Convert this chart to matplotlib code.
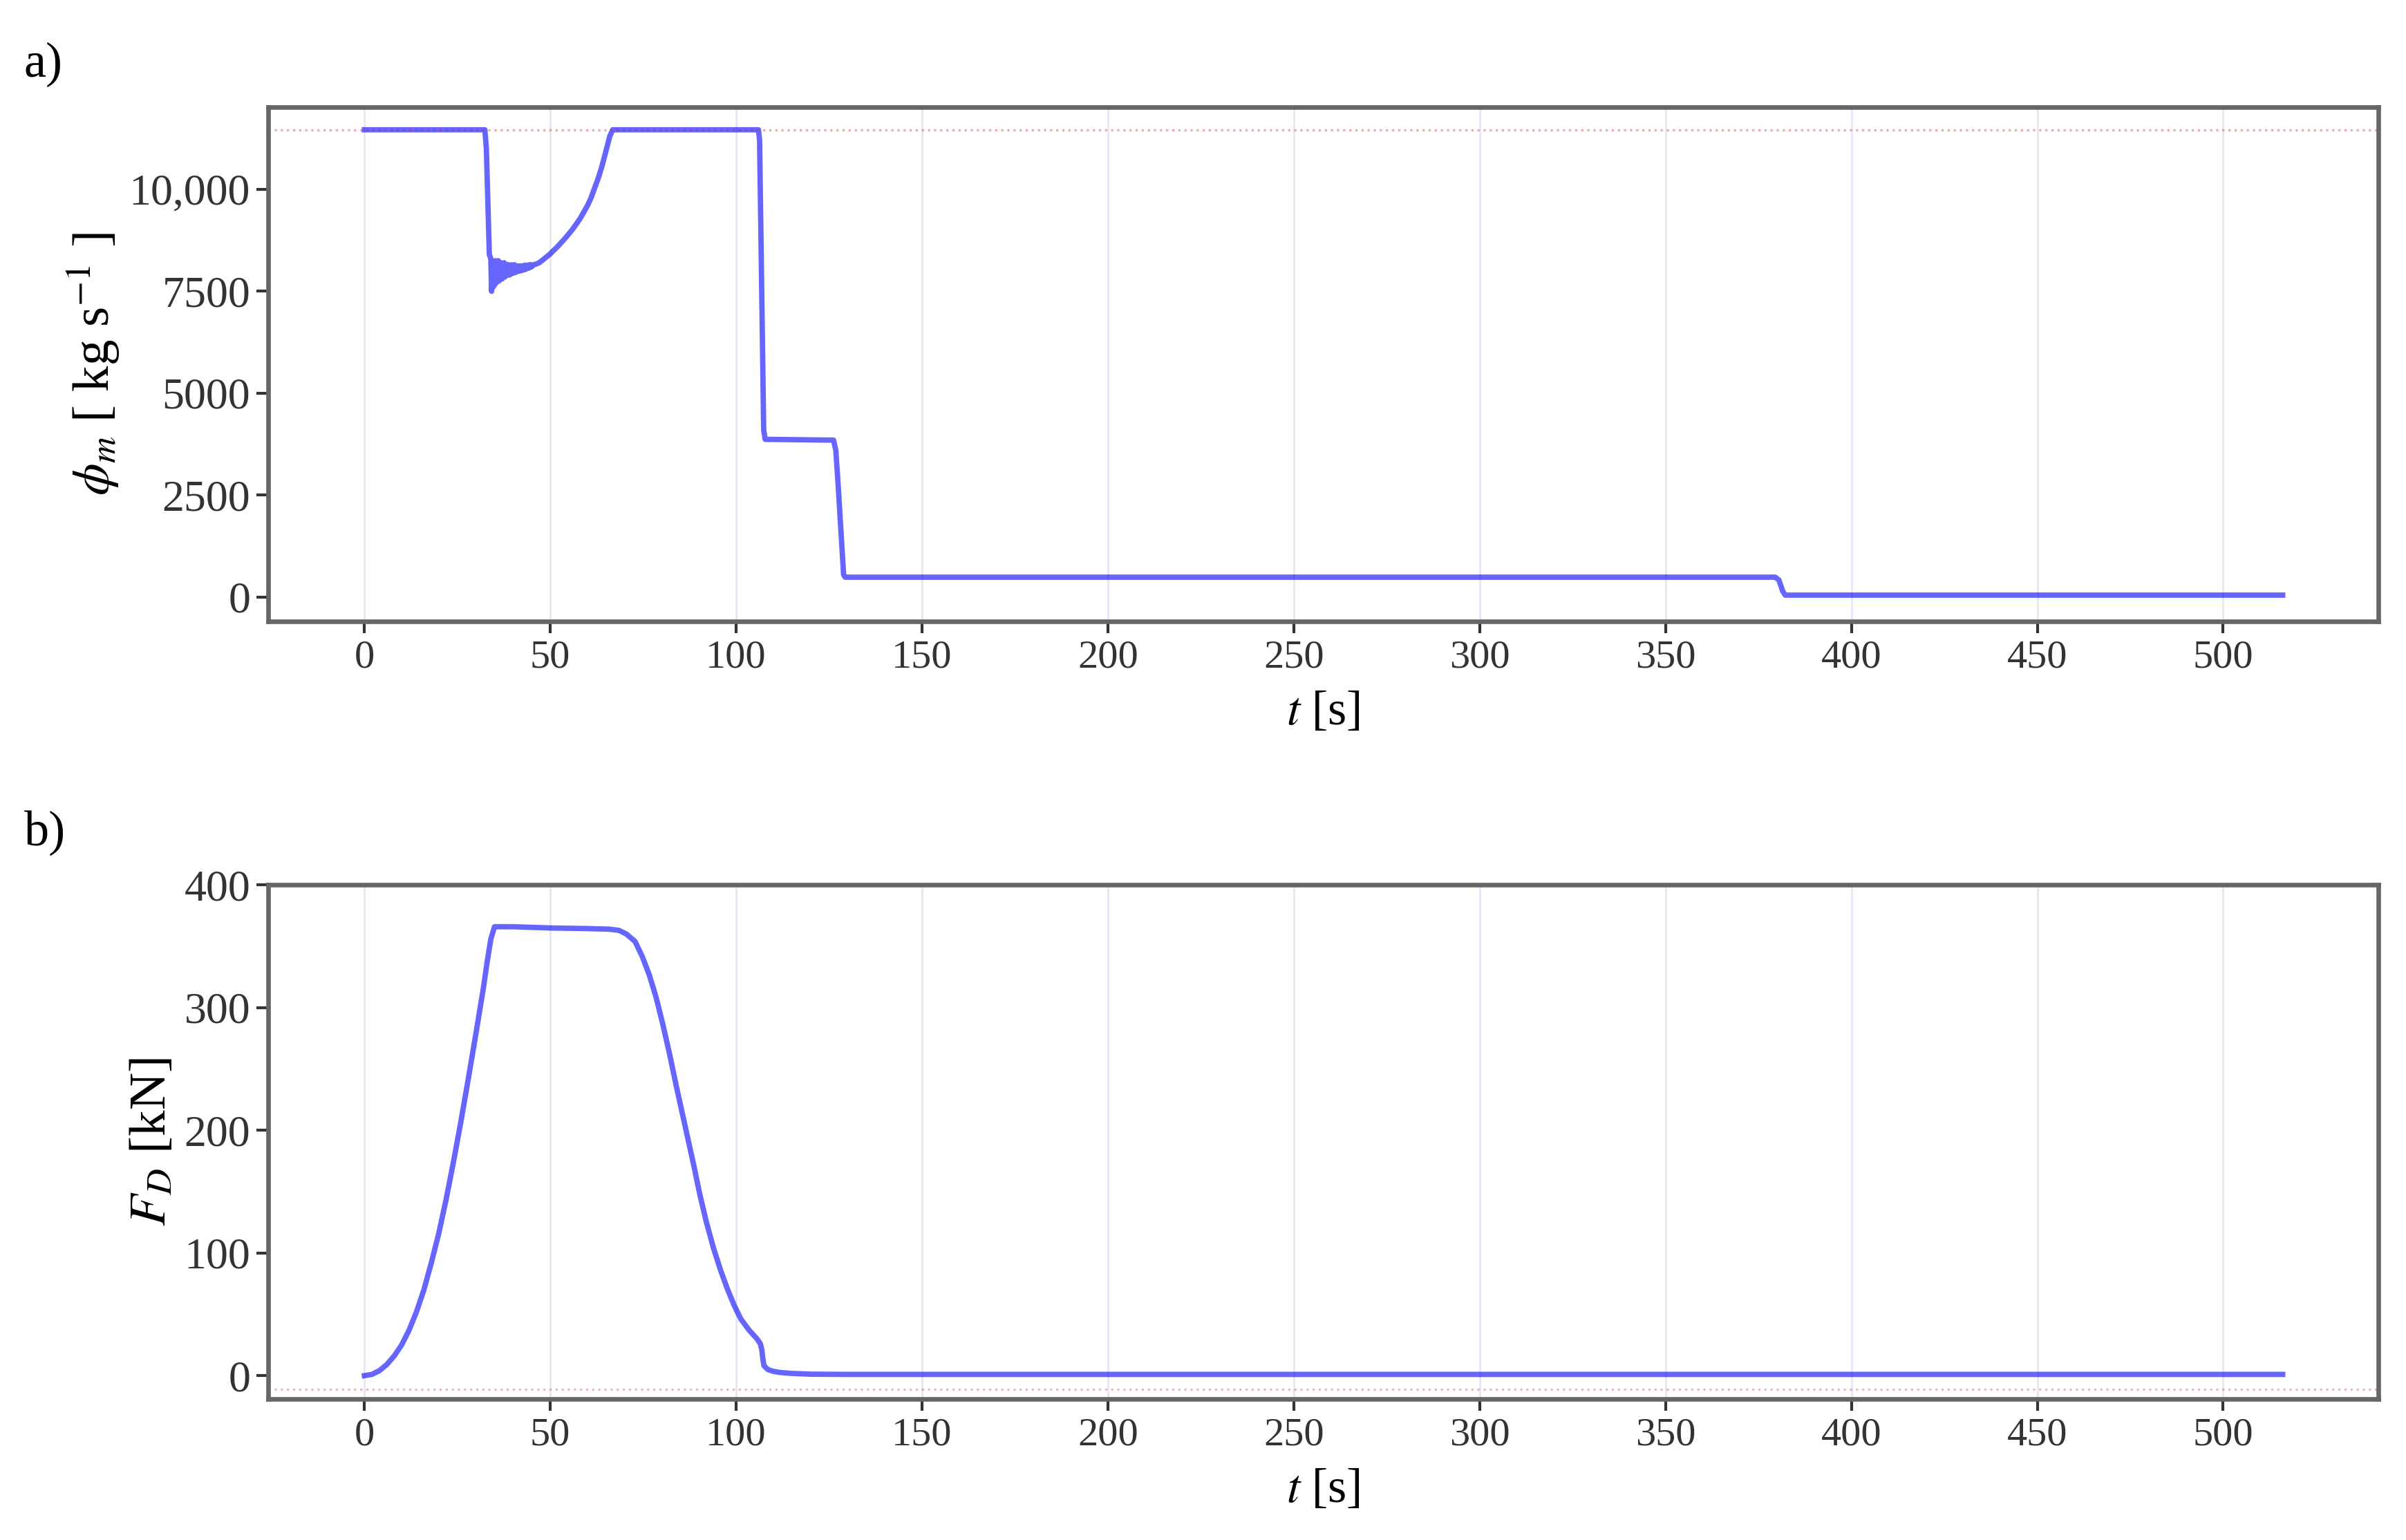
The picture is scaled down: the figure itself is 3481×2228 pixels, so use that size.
import matplotlib
matplotlib.use("Agg")
import matplotlib.pyplot as plt

# mass flow rate (panel a)
t_phi = [0, 32.4, 32.8, 33.6,
         34.0, 34.2, 34.4, 34.6, 34.8, 35.0, 35.2, 35.4, 35.6, 35.8,
         36.0, 36.2, 36.4, 36.6, 36.8, 37.0, 37.2, 37.4, 37.6, 37.8,
         38.0, 38.2, 38.4, 38.6, 38.8, 39.0, 39.2, 39.4, 39.6, 39.8,
         40.0, 40.2, 40.4, 40.6, 40.8, 41.0, 41.2, 41.4, 41.6, 41.8,
         42.0, 42.2, 42.4, 42.6, 42.8, 43.0, 43.2, 43.4, 43.6, 43.8,
         44.0, 44.2, 44.4, 44.6, 44.8, 45.0, 45.4, 46, 47, 48,
         50, 52, 54, 56, 58, 60, 61, 62, 63, 64, 65, 66, 66.8,
         106.0, 106.3, 107.4, 107.8,
         126.2, 126.8, 127.4, 128.9, 129.3, 379.5, 380.5, 381.5, 382.2, 516.0]
phi_m = [11460, 11460, 11000, 8400,
         8300, 7500, 8200, 7600, 8150, 7650, 8250, 7700, 8200, 7750,
         8250, 7750, 8200, 7800, 8200, 7800, 8150, 7850, 8200, 7850,
         8150, 7900, 8150, 7900, 8150, 7900, 8100, 7920, 8150, 7950,
         8100, 7950, 8150, 7960, 8100, 7980, 8120, 7990, 8110, 8000,
         8120, 8010, 8120, 8020, 8130, 8030, 8130, 8040, 8140, 8060,
         8140, 8070, 8150, 8090, 8150, 8100, 8150, 8160, 8200, 8270,
         8420, 8600, 8800, 9020, 9280, 9600, 9800, 10050, 10300, 10600, 10950, 11300, 11460,
         11460, 11200, 4100, 3870,
         3850, 3600, 2800, 550, 490, 490, 420, 150, 50, 50]
phi_max = 11460

# drag force (panel b)
t_fd = [0, 2, 4, 6, 8, 10, 12, 14, 16, 18, 20, 22, 24, 26, 28, 30, 32, 33, 34, 35,
        40, 50, 60, 66, 68.5, 70.5, 72.8, 74.7, 76.6, 78.5, 80.3, 82.1, 83.9, 85.5, 87.1,
        88.7, 90.2, 92.0, 93.9, 95.8, 97.6, 99.5, 101.3, 103.5, 105.6, 106.5, 106.9, 107.2,
        107.5, 108.5, 110, 112, 115, 120, 130, 516.0]
f_d = [0, 1, 4, 9, 16, 25, 37, 52, 70, 92, 116, 144, 175, 208, 243, 279, 316, 337, 356, 366,
       366, 365, 364.5, 364, 363, 360, 354, 342, 327, 308, 286, 262, 236, 214, 192,
       170, 148, 125, 104, 86, 71, 57, 46, 37, 30, 26, 21, 13,
       8, 5, 3.5, 2.5, 1.8, 1.2, 1, 1]
fd_ref = -11

xticks = [0, 50, 100, 150, 200, 250, 300, 350, 400, 450, 500]

plt.rcParams['font.family'] = 'Liberation Serif'
plt.rcParams['mathtext.fontset'] = 'stix'

fig = plt.figure(figsize=(17.405, 11.14), dpi=200)
ax1 = fig.add_axes([0.1116, 0.5966, 0.877, 0.3337])
ax2 = fig.add_axes([0.1116, 0.0916, 0.877, 0.3337])

ax1.plot(t_phi, phi_m, color='blue', alpha=0.6, lw=2.8)
ax1.axhline(phi_max, color='red', alpha=0.35, ls=':', lw=1.2)
ax1.set_ylim(-590, 12010)
ax1.set_yticks([0, 2500, 5000, 7500, 10000])
ax1.set_yticklabels(['0', '2500', '5000', '7500', '10,000'])
ax1.set_ylabel(r'$\phi_m$ [ kg s$^{-1}$ ]', fontsize=27)

ax2.plot(t_fd, f_d, color='blue', alpha=0.6, lw=2.8)
ax2.axhline(fd_ref, color='red', alpha=0.3, ls=':', lw=1.2)
ax2.set_ylim(-19, 400)
ax2.set_yticks([0, 100, 200, 300, 400])
ax2.set_ylabel(r'$F_D$ [kN]', fontsize=27)

for ax in (ax1, ax2):
    ax.set_xlim(-25.8, 541.8)
    ax.set_xticks(xticks)
    ax.set_xlabel(r'$t$ [s]', fontsize=25, labelpad=8)
    ax.grid(axis='x', color='#e6e6f4', lw=1)
    ax.tick_params(labelsize=21, colors='#333333', length=6, width=1.5)
    ax.tick_params(axis='y', labelsize=23)
    for s in ax.spines.values():
        s.set_color('#666666')
        s.set_linewidth(2.4)

fig.text(0.010, 0.958, 'a)', fontsize=26, ha='left', va='center')
fig.text(0.010, 0.459, 'b)', fontsize=26, ha='left', va='center')

fig.savefig('out.png', dpi=200, facecolor='white')
